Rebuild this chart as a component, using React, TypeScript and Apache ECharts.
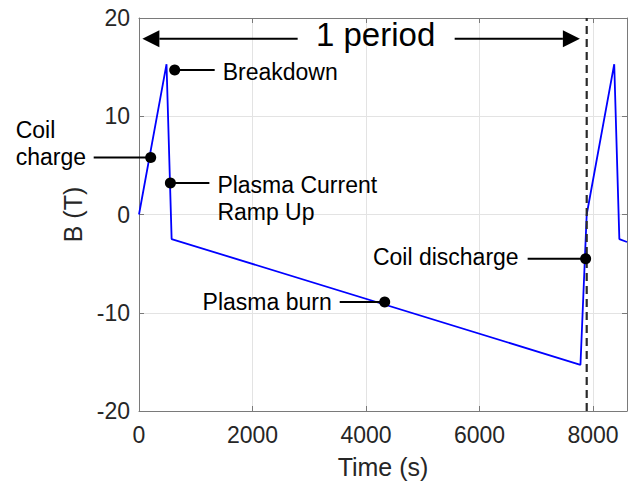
import React, { useEffect, useRef } from "react";
import * as echarts from "echarts";

// ---- data ----
const timeS = [0, 485, 575, 7780, 7890, 8375, 8465, 8600];
const fieldT = [0, 15.3, -2.5, -15.3, 0, 15.3, -2.5, -2.8];
const periodLineX = [7890, 7890];
const periodLineY = [-20, 20];
const xMin = 0;
const xMax = 8600;
const xInterval = 2000;
const yMin = -20;
const yMax = 20;
const yInterval = 10;
const xTitle = "Time (s)";
const yTitle = "B (T)";

const annoNames = ["Breakdown", "Coil\ncharge", "Plasma Current\nRamp Up", "Plasma burn", "Coil discharge"];
const annoX = [629, 206, 553, 4330, 7871];
const annoY = [14.7, 5.8, 3.2, -8.9, -4.5];

const periodLabel = "1 period";
const periodArrowTipX = [60, 7770];
const periodArrowTailX = [2796, 5563];
const periodArrowY = 17.9;
const periodLabelX = 4170;
const periodLabelY = 18.3;

// ---- layout (pixels) ----
// [lineFromDx, lineToDx, textDx, textAlign, textDy]
const annoLayout: [number, number, number, string, number][] = [
  [0, 40, 48, "left", 2],
  [0, -57, -135, "left", -14],
  [0, 39, 47, "left", 15.5],
  [0, -45, -53, "right", 0],
  [0, -58, -67, "right", -2],
];

const FONT = "'Liberation Sans', Arial, Helvetica, sans-serif";

export default function App() {
  const ref = useRef<HTMLDivElement>(null);
  useEffect(() => {
    if (!ref.current) return;
    const chart = echarts.init(ref.current, undefined, { renderer: "svg" });
    const lineData = timeS.map((t, i) => [t, fieldT[i]]);
    const axisLineColor = "#7a7a7a";
    const labelColor = "#262626";
    const option: any = {
      animation: false,
      textStyle: { fontFamily: FONT },
      grid: { left: 139, right: 4, top: 18, bottom: 71, containLabel: false },
      xAxis: [
        {
          type: "value",
          min: xMin,
          max: xMax,
          interval: xInterval,
          position: "bottom",
          name: xTitle,
          nameLocation: "middle",
          nameGap: 43,
          nameTextStyle: { fontSize: 25, color: labelColor, fontFamily: FONT },
          axisLine: { show: true, onZero: false, lineStyle: { color: axisLineColor, width: 1 } },
          axisTick: { show: true, inside: true, length: 5, lineStyle: { color: axisLineColor } },
          axisLabel: {
            fontSize: 23,
            color: labelColor,
            margin: 12,
            fontFamily: FONT,
            formatter: (v: number) => (v % xInterval === 0 ? String(v) : ""),
          },
          splitLine: { show: true, lineStyle: { color: "#e3e3e3", width: 1 } },
        },
        {
          type: "value",
          min: xMin,
          max: xMax,
          interval: xInterval,
          position: "top",
          axisLine: { show: true, onZero: false, lineStyle: { color: axisLineColor, width: 1 } },
          axisTick: { show: true, inside: true, length: 5, lineStyle: { color: axisLineColor } },
          axisLabel: { show: false },
          splitLine: { show: false },
        },
      ],
      yAxis: [
        {
          type: "value",
          min: yMin,
          max: yMax,
          interval: yInterval,
          position: "left",
          name: yTitle,
          nameLocation: "middle",
          nameGap: 54,
          nameTextStyle: { fontSize: 25, color: labelColor, fontFamily: FONT },
          axisLine: { show: true, onZero: false, lineStyle: { color: axisLineColor, width: 1 } },
          axisTick: { show: true, inside: true, length: 5, lineStyle: { color: axisLineColor } },
          axisLabel: { fontSize: 23, color: labelColor, margin: 9, fontFamily: FONT },
          splitLine: { show: true, lineStyle: { color: "#e3e3e3", width: 1 } },
        },
        {
          type: "value",
          min: yMin,
          max: yMax,
          interval: yInterval,
          position: "right",
          axisLine: { show: true, onZero: false, lineStyle: { color: axisLineColor, width: 1 } },
          axisTick: { show: true, inside: true, length: 5, lineStyle: { color: axisLineColor } },
          axisLabel: { show: false },
          splitLine: { show: false },
        },
      ],
      series: [
        {
          type: "line",
          data: lineData,
          xAxisIndex: 0,
          yAxisIndex: 0,
          showSymbol: false,
          symbol: "none",
          lineStyle: { color: "#0000ff", width: 1.8 },
          z: 3,
        },
        {
          type: "line",
          data: periodLineX.map((x, i) => [x, periodLineY[i]]),
          xAxisIndex: 0,
          yAxisIndex: 0,
          showSymbol: false,
          symbol: "none",
          lineStyle: { color: "#2a2a2a", width: 2.2, type: [8, 5] },
          z: 4,
        },
        {
          type: "scatter",
          data: annoX.map((x, i) => [x, annoY[i]]),
          xAxisIndex: 0,
          yAxisIndex: 0,
          symbol: "circle",
          symbolSize: 11,
          itemStyle: { color: "#000000", opacity: 1 },
          z: 6,
        },
      ],
    };
    chart.setOption(option);

    const px = (x: number, y: number) =>
      chart.convertToPixel({ xAxisIndex: 0, yAxisIndex: 0 }, [x, y]) as number[];

    const graphics: any[] = [];
    annoNames.forEach((name, i) => {
      const [cx, cy] = px(annoX[i], annoY[i]);
      const [d0, d1, tdx, align, tdy] = annoLayout[i];
      graphics.push({
        type: "line",
        shape: { x1: cx + d0, y1: cy, x2: cx + d1, y2: cy },
        style: { stroke: "#000", lineWidth: 2 },
        z: 5,
      });
      graphics.push({
        type: "text",
        x: cx + tdx,
        y: cy + tdy,
        style: {
          text: name,
          fill: "#000",
          font: `23px ${FONT}`,
          align,
          verticalAlign: "middle",
          lineHeight: 27,
        },
        z: 7,
      });
    });

    // period arrows
    const headLen = 17;
    const headHalf = 8.5;
    periodArrowTipX.forEach((tipX, i) => {
      const [tx, ty] = px(tipX, periodArrowY);
      const [sx] = px(periodArrowTailX[i], periodArrowY);
      const dir = sx > tx ? 1 : -1;
      const baseX = tx + dir * headLen;
      graphics.push({
        type: "line",
        shape: { x1: sx, y1: ty, x2: baseX, y2: ty },
        style: { stroke: "#000", lineWidth: 2 },
        z: 5,
      });
      graphics.push({
        type: "polygon",
        shape: {
          points: [
            [tx, ty],
            [baseX, ty - headHalf],
            [baseX, ty + headHalf],
          ],
        },
        style: { fill: "#000" },
        z: 5,
      });
    });
    const [lx, ly] = px(periodLabelX, periodLabelY);
    graphics.push({
      type: "text",
      x: lx,
      y: ly,
      style: {
        text: periodLabel,
        fill: "#000",
        font: `33px ${FONT}`,
        align: "center",
        verticalAlign: "middle",
      },
      z: 7,
    });

    chart.setOption({ graphic: graphics });

    return () => chart.dispose();
  }, []);
  return <div ref={ref} style={{ width: 631, height: 484, position: "absolute", left: 0, top: 0 }} />;
}
